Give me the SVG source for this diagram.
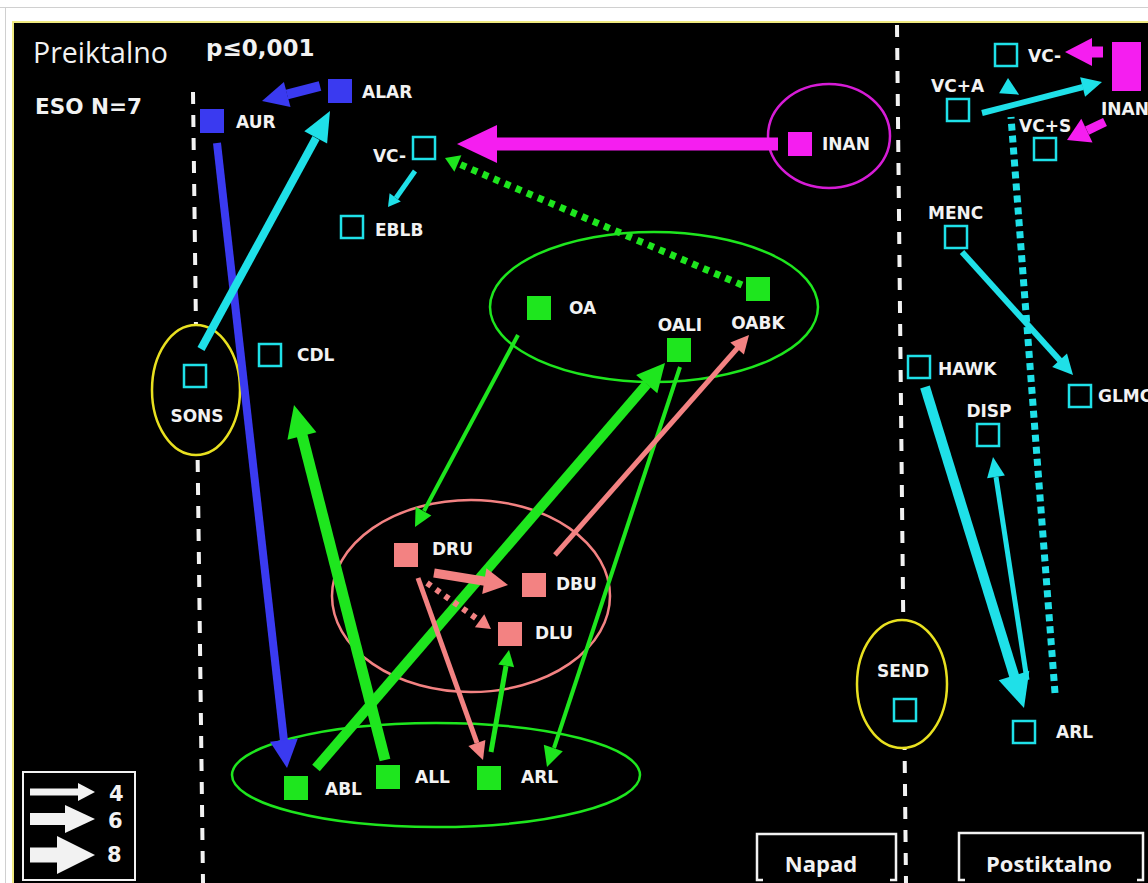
<svg xmlns="http://www.w3.org/2000/svg" width="1148" height="883" viewBox="0 0 1148 883">
<defs>
<style>
.lbl{font-family:"DejaVu Sans","Liberation Sans",sans-serif;font-weight:bold;font-size:17px;fill:#f2f2f2}
.title{font-family:"Open Sans","Liberation Sans",sans-serif;fill:#f2f2f2}
.bold{font-family:"DejaVu Sans","Liberation Sans",sans-serif;font-weight:bold;fill:#f2f2f2}
.cy{fill:#000;stroke:#1fe0e8;stroke-width:2.5}
.gr{fill:#1ee61e}
.pk{fill:#f38282}
.bl{fill:#3a3af0}
.mg{fill:#f51ef0}
.dash{stroke:#f2f2f2;stroke-width:4;stroke-dasharray:12 11;fill:none}
.frame{fill:none;stroke:#f2f2f2;stroke-width:2.5}
</style>
</defs>
<rect x="0" y="0" width="1148" height="883" fill="#ffffff"/>
<line x1="0" y1="7.5" x2="1148" y2="7.5" stroke="#d0d0d0" stroke-width="1"/>
<line x1="5.5" y1="7" x2="5.5" y2="883" stroke="#d0d0d0" stroke-width="1"/>
<rect x="13" y="22" width="1135" height="861" fill="#000" stroke="#f0ea80" stroke-width="2"/>
<rect x="14" y="23" width="1134" height="860" fill="#000"/>

<g id="dividers">
<line class="dash" x1="193" y1="92" x2="203" y2="883"/>
<line class="dash" x1="897" y1="25" x2="906" y2="883"/>
</g>

<g id="titles">
<text class="title" x="33" y="63" font-size="28.5">Preiktalno</text>
<text class="bold" x="206" y="56" font-size="23">p≤0,001</text>
<text class="bold" x="35" y="114" font-size="21.5">ESO N=7</text>
</g>

<g id="groups">
<ellipse id="grp-inan" cx="829" cy="136" rx="61" ry="52" fill="none" stroke="#d61cd6" stroke-width="2.5"/>
<ellipse id="grp-o" cx="654" cy="307" rx="164" ry="75" fill="none" stroke="#1ee61e" stroke-width="2.5"/>
<ellipse id="grp-d" cx="471" cy="596" rx="139" ry="96" fill="none" stroke="#f38282" stroke-width="2.5"/>
<ellipse id="grp-a" cx="436" cy="775" rx="204" ry="52" fill="none" stroke="#1ee61e" stroke-width="2.5"/>
<ellipse id="grp-sons" cx="196" cy="390" rx="44" ry="65" fill="#000" stroke="#e8e020" stroke-width="2.5"/>
<ellipse id="grp-send" cx="902" cy="684" rx="45" ry="64" fill="#000" stroke="#e8e020" stroke-width="2.5"/>
</g>

<g id="connectors">
<!-- ALAR -> AUR -->
<line x1="320" y1="86" x2="287" y2="94.5" stroke="#3a3af0" stroke-width="10"/>
<polygon points="290.5,107.1 262,101 283.9,81.9" fill="#3a3af0"/>
<!-- AUR -> ABL -->
<line x1="217" y1="143" x2="284" y2="741" stroke="#3a3af0" stroke-width="8"/>
<polygon points="297.8,738.6 287,768 270,741.8" fill="#3a3af0"/>
<!-- SONS -> ALAR -->
<line x1="201" y1="349" x2="316" y2="138" stroke="#1fe0e8" stroke-width="8"/>
<polygon points="327.1,143.6 330,111 304.3,131.2" fill="#1fe0e8"/>
<!-- VC- -> EBLB -->
<line x1="415" y1="171" x2="396" y2="198" stroke="#1fe0e8" stroke-width="5"/>
<polygon points="400.8,201.6 388,207 389.6,193.2" fill="#1fe0e8"/>
<!-- INAN -> VC- -->
<line x1="778" y1="144" x2="496" y2="144" stroke="#f51ef0" stroke-width="13"/>
<polygon points="497,125 457,144 497,163" fill="#f51ef0"/>
<!-- OABK -> VC- dotted -->
<line x1="742" y1="285" x2="458" y2="163.5" stroke="#1ee61e" stroke-width="7" stroke-dasharray="6 6"/>
<polygon points="461.4,155.2 445,158 454.4,171.8" fill="#1ee61e"/>
<!-- OA -> DRU -->
<line x1="518" y1="335" x2="424" y2="511" stroke="#1ee61e" stroke-width="4"/>
<polygon points="431.4,515.4 415,527 415.6,506.8" fill="#1ee61e"/>
<!-- OALI -> ARL -->
<line x1="680" y1="367" x2="554" y2="748" stroke="#1ee61e" stroke-width="4"/>
<polygon points="562.8,751.2 547,767 543.8,744.8" fill="#1ee61e"/>
<!-- ABL -> OALI -->
<line x1="316" y1="768" x2="647" y2="384" stroke="#1ee61e" stroke-width="10"/>
<polygon points="657.3,393.3 665,363 636.1,375.1" fill="#1ee61e"/>
<!-- ALL -> CDL -->
<line x1="385" y1="760" x2="302" y2="435" stroke="#1ee61e" stroke-width="11"/>
<polygon points="316.4,432.3 294,405 287.4,439.7" fill="#1ee61e"/>
<!-- ARL -> DLU -->
<line x1="491" y1="752" x2="506" y2="666" stroke="#1ee61e" stroke-width="5"/>
<polygon points="514.1,667.2 509,650 498.3,664.4" fill="#1ee61e"/>
<!-- DRU -> DBU -->
<line x1="434" y1="573" x2="485" y2="581.3" stroke="#f38282" stroke-width="9"/>
<polygon points="486.4,568.3 508,585 482.2,594" fill="#f38282"/>
<!-- DRU -> DLU dotted -->
<line x1="427" y1="583" x2="480" y2="621" stroke="#f38282" stroke-width="6" stroke-dasharray="5 6"/>
<polygon points="484.3,614.3 491,629 474.9,627.3" fill="#f38282"/>
<!-- DRU -> ARL -->
<line x1="418" y1="578" x2="477" y2="743" stroke="#f38282" stroke-width="5"/>
<polygon points="485.4,740.1 483,760 468.4,746.1" fill="#f38282"/>
<!-- DBU -> OABK -->
<line x1="555" y1="555" x2="737.5" y2="348" stroke="#f38282" stroke-width="5"/>
<polygon points="743.9,354.5 749,335 730.3,342.5" fill="#f38282"/>
<!-- right: INAN -> VC- -->
<line x1="1103" y1="52" x2="1090" y2="52" stroke="#f51ef0" stroke-width="11"/>
<polygon points="1092,38 1065,52 1092,66" fill="#f51ef0"/>
<!-- VC+A -> INAN -->
<line x1="982" y1="113" x2="1083" y2="87" stroke="#1fe0e8" stroke-width="6"/>
<polygon points="1085.1,96.7 1102,82 1080.1,77.3" fill="#1fe0e8"/>
<!-- INAN -> VC+S -->
<line x1="1105" y1="122" x2="1087" y2="130.6" stroke="#f51ef0" stroke-width="9"/>
<polygon points="1092.5,142.4 1067,140 1081.3,118.8" fill="#f51ef0"/>
<!-- ARL -> VC- dotted -->
<line x1="1055" y1="693" x2="1011" y2="117" stroke="#1fe0e8" stroke-width="7" stroke-dasharray="7 5"/>
<polygon points="1019.1,94.7 1008,78 999.1,93.3" fill="#1fe0e8"/>
<!-- MENC -> GLMC -->
<line x1="962" y1="252" x2="1060" y2="360.5" stroke="#1fe0e8" stroke-width="6"/>
<polygon points="1067,353.5 1073,375 1052.2,366.9" fill="#1fe0e8"/>
<!-- HAWK -> ARL -->
<line x1="925" y1="387" x2="1014.5" y2="677" stroke="#1fe0e8" stroke-width="10"/>
<polygon points="1029.3,670.8 1024,708 998.7,680.2" fill="#1fe0e8"/>
<!-- ARL -> DISP -->
<line x1="1027" y1="680" x2="996" y2="477" stroke="#1fe0e8" stroke-width="5"/>
<polygon points="1004.9,475.4 993,457 987.1,478.2" fill="#1fe0e8"/>
</g>

<g id="node-AUR"><rect class="bl" x="200" y="109" width="24" height="24"/><text class="lbl" x="236" y="128">AUR</text></g>
<g id="node-ALAR"><rect class="bl" x="328" y="79" width="24" height="24"/><text class="lbl" x="362" y="98">ALAR</text></g>
<g id="node-VCm"><rect class="cy" x="413" y="137" width="22" height="22"/><text class="lbl" x="406" y="162" text-anchor="end">VC-</text></g>
<g id="node-EBLB"><rect class="cy" x="341" y="216" width="22" height="22"/><text class="lbl" x="375" y="236">EBLB</text></g>
<g id="node-CDL"><rect class="cy" x="259" y="344" width="22" height="22"/><text class="lbl" x="297" y="361">CDL</text></g>
<g id="node-SONS"><rect class="cy" x="184" y="365" width="22" height="22"/><text class="lbl" x="197" y="422" text-anchor="middle">SONS</text></g>
<g id="node-INAN"><rect class="mg" x="788" y="132" width="24" height="24"/><text class="lbl" x="822" y="150">INAN</text></g>
<g id="node-OA"><rect class="gr" x="527" y="296" width="24" height="24"/><text class="lbl" x="569" y="314">OA</text></g>
<g id="node-OALI"><rect class="gr" x="667" y="338" width="24" height="24"/><text class="lbl" x="680" y="331" text-anchor="middle">OALI</text></g>
<g id="node-OABK"><rect class="gr" x="746" y="277" width="24" height="24"/><text class="lbl" x="758" y="329" text-anchor="middle">OABK</text></g>
<g id="node-DRU"><rect class="pk" x="394" y="543" width="24" height="24"/><text class="lbl" x="432" y="555">DRU</text></g>
<g id="node-DBU"><rect class="pk" x="522" y="573" width="24" height="24"/><text class="lbl" x="556" y="590">DBU</text></g>
<g id="node-DLU"><rect class="pk" x="498" y="622" width="24" height="24"/><text class="lbl" x="535" y="639">DLU</text></g>
<g id="node-ABL"><rect class="gr" x="284" y="776" width="24" height="24"/><text class="lbl" x="325" y="795">ABL</text></g>
<g id="node-ALL"><rect class="gr" x="376" y="765" width="24" height="24"/><text class="lbl" x="415" y="783">ALL</text></g>
<g id="node-ARL"><rect class="gr" x="477" y="766" width="24" height="24"/><text class="lbl" x="521" y="783">ARL</text></g>

<g id="node-VCm-post"><rect class="cy" x="995" y="44" width="22" height="22"/><text class="lbl" x="1028" y="62">VC-</text></g>
<g id="node-INAN-post"><rect class="mg" x="1112" y="42" width="29" height="49"/><text class="lbl" x="1101" y="115">INAN</text></g>
<g id="node-VCpA"><rect class="cy" x="947" y="99" width="22" height="22"/><text class="lbl" x="931" y="92">VC+A</text></g>
<g id="node-VCpS"><rect class="cy" x="1034" y="138" width="22" height="22"/><text class="lbl" x="1019" y="132">VC+S</text></g>
<g id="node-MENC"><rect class="cy" x="945" y="226" width="22" height="22"/><text class="lbl" x="928" y="219">MENC</text></g>
<g id="node-GLMC"><rect class="cy" x="1069" y="385" width="22" height="22"/><text class="lbl" x="1098" y="402">GLMC</text></g>
<g id="node-HAWK"><rect class="cy" x="908" y="356" width="22" height="22"/><text class="lbl" x="938" y="375">HAWK</text></g>
<g id="node-DISP"><rect class="cy" x="977" y="424" width="22" height="22"/><text class="lbl" x="989" y="417" text-anchor="middle">DISP</text></g>
<g id="node-ARL-post"><rect class="cy" x="1013" y="721" width="22" height="22"/><text class="lbl" x="1056" y="738">ARL</text></g>
<g id="node-SEND"><rect class="cy" x="894" y="699" width="22" height="22"/><text class="lbl" x="903" y="677" text-anchor="middle">SEND</text></g>

<g id="legend">
<rect x="23" y="772" width="112" height="108" fill="none" stroke="#f2f2f2" stroke-width="2"/>
<line x1="30" y1="792" x2="79" y2="792" stroke="#f2f2f2" stroke-width="7"/>
<polygon points="78,783 95,792 78,801" fill="#f2f2f2"/>
<line x1="30" y1="819" x2="66" y2="819" stroke="#f2f2f2" stroke-width="12"/>
<polygon points="65,805 95,819 65,833" fill="#f2f2f2"/>
<line x1="30" y1="855" x2="58" y2="855" stroke="#f2f2f2" stroke-width="15"/>
<polygon points="57,836 95,855 57,874" fill="#f2f2f2"/>
<text class="bold" x="109" y="801" font-size="21">4</text>
<text class="bold" x="108" y="828" font-size="21">6</text>
<text class="bold" x="107" y="862" font-size="21">8</text>
</g>

<g id="phase-napad">
<path class="frame" d="M763,880 H757 V834 H896 V880 H890"/>
<text class="title" x="821" y="872" font-size="22" font-weight="bold" text-anchor="middle">Napad</text>
</g>
<g id="phase-post">
<path class="frame" d="M965,880 H959 V833 H1143 V880 H1137"/>
<text class="title" x="1049" y="872" font-size="22" font-weight="bold" text-anchor="middle">Postiktalno</text>
</g>
</svg>
